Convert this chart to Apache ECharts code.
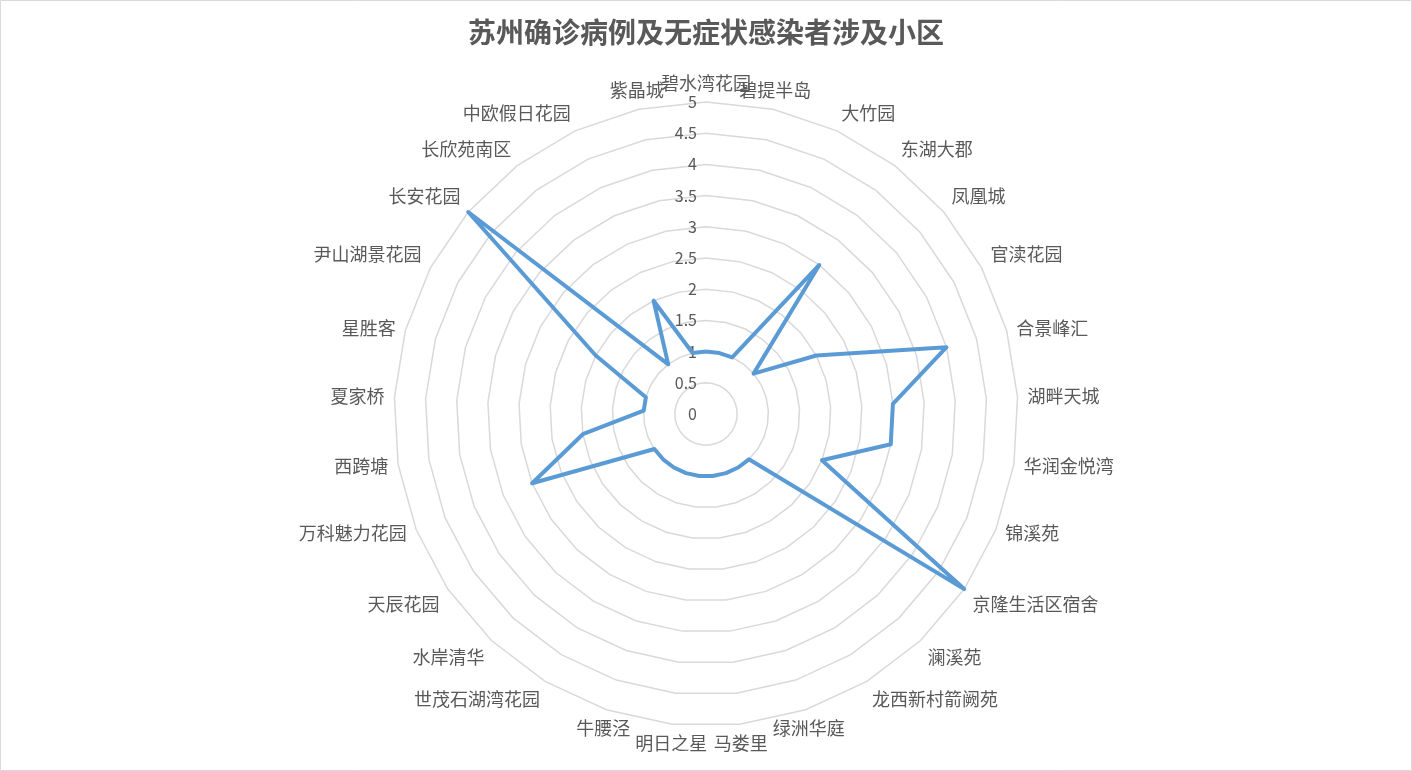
<!DOCTYPE html>
<html>
<head>
<meta charset="utf-8">
<script src="https://cdn.jsdelivr.net/npm/echarts@6/dist/echarts.min.js"></script>
<style>
  html, body { margin: 0; padding: 0; background: #fff; }
  #chart { width: 1412px; height: 771px; }
</style>
</head>
<body>
<div id="chart"></div>
<script>
// 小区名称, clockwise from the top
const communities = [
  '碧水湾花园', '碧提半岛', '大竹园', '东湖大郡', '凤凰城', '官渎花园', '合景峰汇',
  '湖畔天城', '华润金悦湾', '锦溪苑', '京隆生活区宿舍', '澜溪苑', '龙西新村箭阙苑',
  '绿洲华庭', '马娄里', '明日之星', '牛腰泾', '世茂石湖湾花园', '水岸清华', '天辰花园',
  '万科魅力花园', '西跨塘', '夏家桥', '星胜客', '尹山湖景花园', '长安花园', '长欣苑南区',
  '中欧假日花园', '紫晶城'
];
const caseCounts = [
  1, 1, 1, 3, 1, 2, 4,
  3, 3, 2, 5, 1, 1,
  1, 1, 1, 1, 1, 1, 1,
  3, 2, 1, 1, 2, 5, 1,
  2, 1
];
const axisMax = 5;
const axisSplits = 10;

const textColor = '#595959';
const font = '"Noto Sans CJK SC", "Microsoft YaHei", sans-serif';

// echarts lays radar axes out counter-clockwise, so keep the first one on top
// and feed the rest in reverse to get the clockwise order
const order = [0];
for (let i = communities.length - 1; i > 0; i--) order.push(i);

// Excel-like label anchoring: centred near the vertical, side-aligned elsewhere
const nameStyleFor = (idx) => {
  const a = idx * 2 * Math.PI / communities.length;
  const s = Math.sin(a), c = Math.cos(a);
  let align, verticalAlign;
  if (Math.abs(s) < 0.34) {
    align = 'center';
    verticalAlign = c > 0 ? 'bottom' : 'top';
  } else {
    align = s > 0 ? 'left' : 'right';
    verticalAlign = Math.abs(c) < 0.42 ? 'middle' : (c > 0 ? 'bottom' : 'top');
  }
  return { align, verticalAlign };
};

const indicators = order.map((idx, i) => {
  const ind = {
    name: communities[idx],
    min: 0,
    max: axisMax,
    nameTextStyle: nameStyleFor(idx)
  };
  // only the vertical axis carries the value labels
  if (i === 0) ind.axisLabel = { show: true };
  return ind;
});
const values = order.map(idx => caseCounts[idx]);

const chart = echarts.init(document.getElementById('chart'));

chart.setOption({
  animation: false,
  title: {
    text: '苏州确诊病例及无症状感染者涉及小区',
    left: 'center',
    top: 13,
    textStyle: {
      color: textColor,
      fontSize: 28,
      fontWeight: 'bold',
      fontFamily: font
    }
  },
  graphic: [{
    type: 'rect',
    shape: { x: 0.5, y: 0.5, width: 1411, height: 770 },
    style: { fill: 'none', stroke: '#d9d9d9', lineWidth: 1 },
    silent: true
  }],
  radar: {
    center: [706, 414],
    radius: 312,
    startAngle: 90,
    shape: 'polygon',
    splitNumber: axisSplits,
    indicator: indicators,
    nameGap: 10,
    axisName: {
      color: textColor,
      fontSize: 18,
      fontFamily: font
    },
    axisLine: { show: false },
    axisTick: { show: false },
    axisLabel: {
      show: false,
      color: textColor,
      fontSize: 16,
      fontFamily: font,
      margin: 9
    },
    splitLine: { lineStyle: { color: '#d9d9d9', width: 1.5 } },
    splitArea: { show: false }
  },
  series: [{
    type: 'radar',
    symbol: 'none',
    lineStyle: { color: '#5b9bd5', width: 4 },
    data: [{ value: values, name: '小区' }]
  }]
});
</script>
</body>
</html>
